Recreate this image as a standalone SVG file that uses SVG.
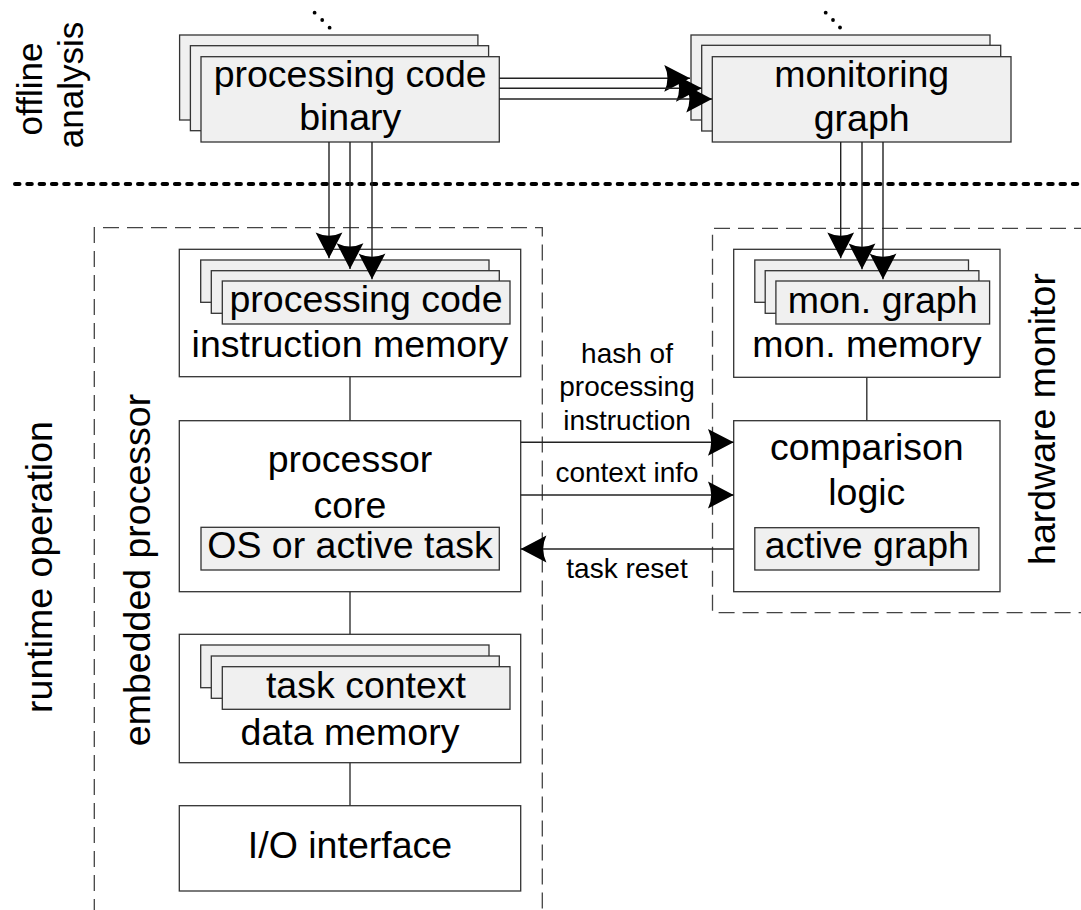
<svg xmlns="http://www.w3.org/2000/svg" width="1081" height="910" viewBox="0 0 1081 910">
<style>
text{font-family:"Liberation Sans",Arial,sans-serif;fill:#000;text-anchor:middle}
.big{font-size:37.5px}
.lbl{font-size:28px}
.box{fill:#fff;stroke:#333;stroke-width:1.3}
.sub{fill:#f0f0f0;stroke:#333;stroke-width:1.3}
.ln{fill:none;stroke:#333;stroke-width:1.4}
.arr{fill:none;stroke:#222;stroke-width:1.4;marker-end:url(#ah)}
.dash{fill:none;stroke:#444;stroke-width:1.3;stroke-dasharray:16 8}
.dot{fill:#000}
</style>
<defs>
<marker id="ah" markerUnits="userSpaceOnUse" markerWidth="30" markerHeight="30" viewBox="-26 -14 28 28" refX="0" refY="0" orient="auto">
<path d="M0,0 L-24,-12.5 Q-18,0 -24,12.5 Z" fill="#000"/>
</marker>
</defs>
<rect width="1081" height="910" fill="#fff"/>

<g id="separator">
<path d="M15,184 H1081" fill="none" stroke="#000" stroke-width="4" stroke-linecap="round" stroke-dasharray="4.5 7.8"/>
</g>

<g id="region-labels">
<text class="big" style="font-size:35px" transform="translate(42,89) rotate(-90)">offline</text>
<text class="big" style="font-size:35px" transform="translate(83,85) rotate(-90)">analysis</text>
<text class="big" transform="translate(52,567) rotate(-90)">runtime operation</text>
</g>

<g id="embedded-processor">
<path class="dash" d="M94.3,915 V227.7 H542.3 V915"/>
<text class="big" transform="translate(150,570) rotate(-90)">embedded processor</text>
</g>

<g id="hardware-monitor">
<path class="dash" d="M1090,228.3 H712.5 V612.7 H1090"/>
<text class="big" transform="translate(1055,419) rotate(-90)">hardware monitor</text>
</g>

<g id="processing-code-binary">
<circle class="dot" cx="314.6" cy="12.7" r="1.9"/>
<circle class="dot" cx="322.2" cy="20" r="1.9"/>
<circle class="dot" cx="329.6" cy="27.7" r="1.9"/>
<rect class="sub" x="179.6" y="35" width="298.3" height="85"/>
<rect class="sub" x="190.4" y="45.7" width="298.2" height="85"/>
<rect class="sub" x="201" y="56.7" width="298.3" height="85.3"/>
<text class="big" x="350.2" y="86.7">processing code</text>
<text class="big" x="350.2" y="130">binary</text>
</g>

<g id="monitoring-graph">
<circle class="dot" cx="825.7" cy="12.7" r="1.9"/>
<circle class="dot" cx="833" cy="20" r="1.9"/>
<circle class="dot" cx="840" cy="27.5" r="1.9"/>
<rect class="sub" x="691" y="35" width="299" height="85"/>
<rect class="sub" x="701.7" y="45.3" width="299" height="85.7"/>
<rect class="sub" x="712.3" y="56.7" width="298.7" height="85.3"/>
<text class="big" x="861.7" y="87">monitoring</text>
<text class="big" x="861.7" y="131">graph</text>
</g>

<g id="instruction-memory">
<rect class="box" x="179.3" y="249.3" width="341.4" height="127.4"/>
<rect class="sub" x="200.7" y="260" width="288.3" height="42.3"/>
<rect class="sub" x="211.3" y="270.7" width="288" height="42.6"/>
<rect class="sub" x="222.3" y="281" width="287.7" height="43"/>
<text class="big" x="366" y="311.7">processing code</text>
<text class="big" x="350" y="356.7">instruction memory</text>
</g>

<g id="processor-core">
<rect class="box" x="179.3" y="420.7" width="341.4" height="171"/>
<text class="big" x="350" y="471.7">processor</text>
<text class="big" x="350" y="518.3">core</text>
<rect class="sub" x="201" y="527.3" width="298.3" height="42.7"/>
<text class="big" x="350" y="558.3">OS or active task</text>
</g>

<g id="data-memory">
<rect class="box" x="179.3" y="634.3" width="341.4" height="128.4"/>
<rect class="sub" x="200.7" y="645" width="288.3" height="42.7"/>
<rect class="sub" x="211.3" y="656" width="288" height="42.3"/>
<rect class="sub" x="222.3" y="666.7" width="287.7" height="42.6"/>
<text class="big" x="366" y="698.3">task context</text>
<text class="big" x="350" y="745">data memory</text>
</g>

<g id="io-interface">
<rect class="box" x="179.3" y="805.7" width="341.4" height="85.3"/>
<text class="big" x="350" y="858.3">I/O interface</text>
</g>

<g id="mon-memory">
<rect class="box" x="733.7" y="249.3" width="266.3" height="128"/>
<rect class="sub" x="754.8" y="260" width="213.7" height="42.3"/>
<rect class="sub" x="765.2" y="270.7" width="213.7" height="42.6"/>
<rect class="sub" x="775.9" y="281" width="213.7" height="43"/>
<text class="big" x="882.7" y="313.3">mon. graph</text>
<text class="big" x="866.8" y="356.7">mon. memory</text>
</g>

<g id="comparison-logic">
<rect class="box" x="733.7" y="420.7" width="266.3" height="171"/>
<text class="big" x="866.8" y="460">comparison</text>
<text class="big" x="866.8" y="505">logic</text>
<rect class="sub" x="754.8" y="527.7" width="224.1" height="42.3"/>
<text class="big" x="866.8" y="558.3">active graph</text>
</g>

<g id="connectors">
<line class="ln" x1="350" y1="376.7" x2="350" y2="420.7"/>
<line class="ln" x1="350" y1="591.7" x2="350" y2="634.3"/>
<line class="ln" x1="350" y1="762.7" x2="350" y2="805.7"/>
<line class="ln" x1="866.8" y1="377.3" x2="866.8" y2="420.7"/>
<line class="arr" x1="499.3" y1="78.3" x2="690" y2="78.3"/>
<line class="arr" x1="499.3" y1="88.3" x2="701.7" y2="88.3"/>
<line class="arr" x1="499.3" y1="99" x2="712" y2="99"/>
<line class="arr" x1="329" y1="142" x2="329" y2="258.3"/>
<line class="arr" x1="350" y1="142" x2="350" y2="269"/>
<line class="arr" x1="372" y1="142" x2="372" y2="279.3"/>
<line class="arr" x1="840.7" y1="142" x2="840.7" y2="258.3"/>
<line class="arr" x1="862" y1="142" x2="862" y2="269.3"/>
<line class="arr" x1="883" y1="142" x2="883" y2="279.3"/>
<line class="arr" x1="520.7" y1="442.3" x2="733.7" y2="442.3"/>
<line class="arr" x1="520.7" y1="495" x2="733.7" y2="495"/>
<line class="arr" x1="733.7" y1="549" x2="520.7" y2="549"/>
<text class="lbl" x="627" y="362.5">hash of</text>
<text class="lbl" x="627" y="396">processing</text>
<text class="lbl" x="627" y="430">instruction</text>
<text class="lbl" x="627" y="481.7">context info</text>
<text class="lbl" x="627" y="578.3">task reset</text>
</g>
</svg>
